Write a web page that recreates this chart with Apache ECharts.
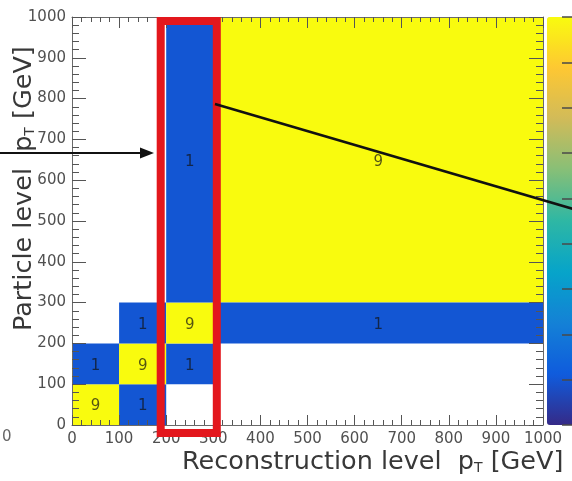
<!DOCTYPE html>
<html>
<head>
<meta charset="utf-8">
<script src="https://cdn.jsdelivr.net/npm/echarts@6/dist/echarts.min.js"></script>
<style>
html,body{margin:0;padding:0;background:#fff;}
#wrap{position:relative;width:572px;height:481px;}
#c{position:absolute;left:0;top:0;width:572px;height:481px;}
#cb{position:absolute;left:547px;top:0;width:25px;height:481px;}
</style>
</head>
<body>
<div id="wrap"><div id="c"></div><div id="cb"></div></div>
<script>
// ---- data (bins of the 2D response matrix) ----
var binX0  = [0,   100, 0,   100, 100, 200, 200, 200,  300,  300];
var binX1  = [100, 200, 100, 200, 200, 300, 300, 300,  1000, 1000];
var binY0  = [0,   0,   100, 100, 200, 100, 200, 300,  300,  200];
var binY1  = [100, 100, 200, 200, 300, 200, 300, 1000, 1000, 300];
var binVal = [9,   1,   1,   9,   1,   1,   9,   1,    9,    1];
var xTickStep = 100, yTickStep = 100;
var axisMin = 0, axisMax = 1000;
var zMin = 0, zMax = 9;
var xTitle = 'Reconstruction level  p';
var yTitle = 'Particle level  p';
var subT = 'T';
var unit = ' [GeV]';

var bird = ['#352a87','#0f5cdd','#1481d6','#06a4ca','#2eb7a4','#87bf77','#d1bb59','#fec832','#f9fb0e'];

var data = binVal.map(function(v,i){ return [binX0[i], binX1[i], binY0[i], binY1[i], v]; });

var FONT = 'DejaVu Sans';
var TC = '#555';
function fmt(v){ return String(v); }

function frameAxis(pos, len, minorLen, labelShow, step){
  return {type:'value', min:axisMin, max:axisMax, interval:step, position:pos, z:10,
    axisLine:{show:true, onZero:false, lineStyle:{color:'#6a6a6a'}}, splitLine:{show:false},
    axisTick:{show:true, inside:true, length:len, lineStyle:{color:TC}},
    minorTick:{show:true, splitNumber:5, length:minorLen, lineStyle:{color:TC}},
    axisLabel:{show:true, margin:(pos==='bottom'?7:6), color:(labelShow?'#505050':'rgba(0,0,0,0)'),
      fontFamily:FONT, fontSize:15, formatter:(labelShow?fmt:function(){return '';})}};
}

// ---------- main chart: one grid with frame axes on all four sides ----------
var chart = echarts.init(document.getElementById('c'));
chart.setOption({
  animation:false,
  backgroundColor:'#ffffff',
  grid:[{left:72, top:17, width:471, height:408}],
  xAxis:[ frameAxis('bottom', 10, 5, true, xTickStep), frameAxis('top', 11, 5, false, xTickStep) ],
  yAxis:[ frameAxis('left', 14, 7, true, yTickStep), frameAxis('right', 14, 7, false, yTickStep) ],
  visualMap:{
    type:'continuous', min:zMin, max:zMax, dimension:4, seriesIndex:0,
    left:547, top:17, itemWidth:28, itemHeight:408, padding:0,
    calculable:false, hoverLink:false, text:null,
    inRange:{color:bird}
  },
  series:[{
    type:'custom', xAxisIndex:0, yAxisIndex:0,
    encode:{x:[0,1], y:[2,3]},
    data:data,
    renderItem:function(params, api){
      var p0 = api.coord([api.value(0), api.value(2)]);
      var p1 = api.coord([api.value(1), api.value(3)]);
      return {type:'group', children:[
        {type:'rect', shape:{x:p0[0], y:p1[1], width:p1[0]-p0[0], height:p0[1]-p1[1]},
          style:{fill:api.visual('color')}},
        {type:'text', style:{text:String(api.value(4)), x:(p0[0]+p1[0])/2, y:(p0[1]+p1[1])/2+2,
          align:'center', verticalAlign:'middle', fill:'rgba(20,20,20,0.72)',
          fontFamily:FONT, fontSize:15}}
      ]};
    }
  }]
});

// annotations (red frame around the 200-300 column, arrows, titles)
var pl = chart.convertToPixel({gridIndex:0}, [200, 1000]);
var pr = chart.convertToPixel({gridIndex:0}, [300, 0]);
var richT = {
  a:{fontFamily:FONT, fontSize:25.5, fill:'#383838', lineHeight:30, verticalAlign:'bottom'},
  s:{fontFamily:FONT, fontSize:14, fill:'#383838', lineHeight:30, verticalAlign:'bottom'}
};
chart.setOption({graphic:[
  {type:'rect', z:100, silent:true,
    shape:{x:pl[0]-5.5, y:pl[1]+4, width:(pr[0]+3.5)-(pl[0]-5.5), height:(pr[1]+8)-(pl[1]+4)},
    style:{fill:'none', stroke:'#e3171d', lineWidth:8}},
  {type:'line', z:100, silent:true, shape:{x1:0, y1:153, x2:143, y2:153}, style:{stroke:'#111', lineWidth:2}},
  {type:'polygon', z:100, silent:true, shape:{points:[[140,147.5],[154,153],[140,158.5]]}, style:{fill:'#111'}},
  {type:'line', z:100, silent:true, shape:{x1:215, y1:104, x2:580, y2:211}, style:{stroke:'#111', lineWidth:2.5}},
  {type:'text', z:100, silent:true, x:182, y:475,
    style:{text:'{a|'+xTitle+'}{s|'+subT+'}{a|'+unit+'}', rich:richT, align:'left', verticalAlign:'bottom'}},
  {type:'text', z:100, silent:true, x:37, y:331, rotation:Math.PI/2,
    style:{text:'{a|'+yTitle+'}{s|'+subT+'}{a|'+unit+'}', rich:richT, align:'left', verticalAlign:'bottom'}},
  {type:'text', z:100, silent:true, x:2, y:430,
    style:{text:'0', fontFamily:FONT, fontSize:15, fill:'#666'}}
]});

// ---------- colour-bar tick axis (separate small transparent chart over the bar) ----------
var cb = echarts.init(document.getElementById('cb'));
cb.setOption({
  animation:false,
  backgroundColor:'rgba(0,0,0,0)',
  grid:[{left:0, top:17, width:25, height:408}],
  xAxis:[{type:'value', min:0, max:1, show:false}],
  yAxis:[{type:'value', min:zMin, max:zMax, interval:1, position:'right',
    axisLine:{show:false, onZero:false}, axisLabel:{show:false}, splitLine:{show:false},
    axisTick:{show:true, inside:true, length:10, lineStyle:{color:'#4a4a4a', width:1.5}}}],
  series:[]
});
</script>
</body>
</html>
